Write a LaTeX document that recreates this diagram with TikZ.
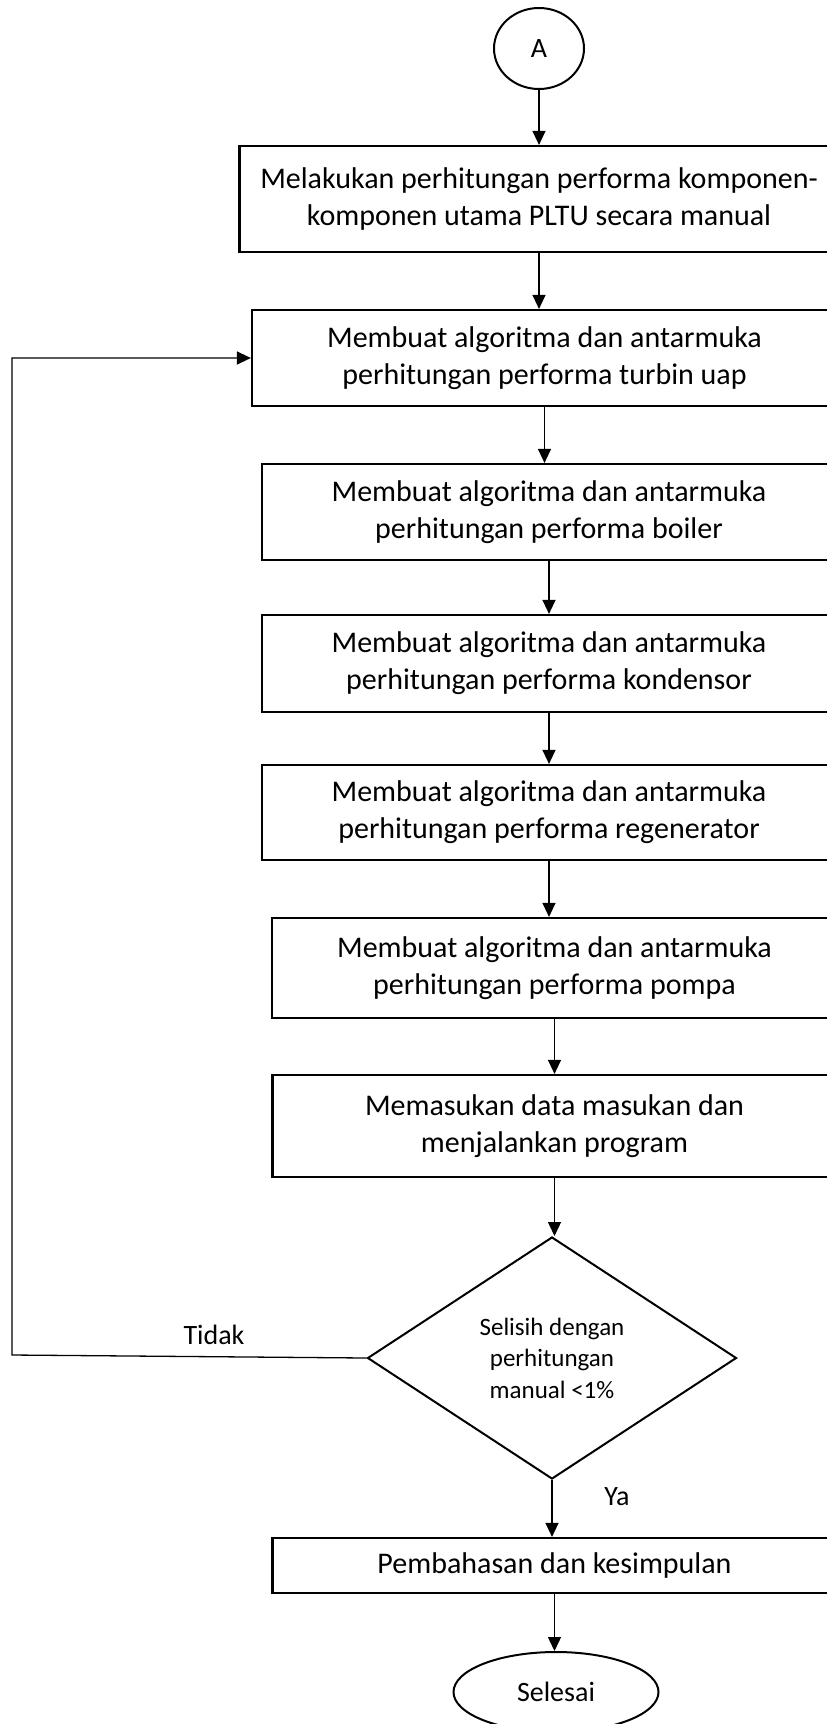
\documentclass[tikz,border=0pt]{standalone}
\usepackage{fontspec}
\setmainfont{Carlito}
\usepackage{tikz}
\usetikzlibrary{shapes,shapes.geometric,arrows,arrows.meta,positioning,calc}

\begin{document}
\begin{tikzpicture}[x=1pt,y=-1pt,
    box/.style={draw,rectangle,line width=2.2pt,align=center,inner sep=0pt,font=\fontsize{30}{37}\selectfont},
    line/.style={line width=1.3pt,-{Triangle[width=13pt,length=14pt]}},
    lbl/.style={font=\fontsize{28}{34}\selectfont}]
    \useasboundingbox (0,0) rectangle (827,1724);
    \node[draw,ellipse,line width=2pt,minimum width=90pt,minimum height=81pt,inner sep=0pt,lbl] (A) at (539,48.5) {A};
    \node[box,minimum width=599pt,minimum height=106pt] (b1) at (539,199) {Melakukan perhitungan performa komponen-\\komponen utama PLTU secara manual};
    \node[box,minimum width=585pt,minimum height=96pt] (b2) at (544.5,358) {Membuat algoritma dan antarmuka\\perhitungan performa turbin uap};
    \node[box,minimum width=574pt,minimum height=96pt] (b3) at (549,512) {Membuat algoritma dan antarmuka\\perhitungan performa boiler};
    \node[box,minimum width=574pt,minimum height=97pt] (b4) at (549,663.5) {Membuat algoritma dan antarmuka\\perhitungan performa kondensor};
    \node[box,minimum width=574pt,minimum height=95pt] (b5) at (549,812.5) {Membuat algoritma dan antarmuka\\perhitungan performa regenerator};
    \node[box,minimum width=565pt,minimum height=100pt] (b6) at (554.5,968) {Membuat algoritma dan antarmuka\\perhitungan performa pompa};
    \node[box,minimum width=564pt,minimum height=102pt] (b7) at (554.5,1126) {Memasukan data masukan dan\\menjalankan program};
    \node[draw,diamond,line width=2pt,minimum width=369pt,minimum height=242pt,inner sep=0pt,align=center,font=\fontsize{25}{31.5}\selectfont] (d) at (552,1358) {Selisih dengan\\perhitungan\\manual <1\%};
    \node[box,minimum width=564pt,minimum height=55pt] (b8) at (554.5,1565.5) {Pembahasan dan kesimpulan};
    \node[draw,ellipse,line width=2pt,minimum width=205pt,minimum height=80pt,lbl] (end) at (556,1692) {Selesai};
    \node[lbl] (tidak) at (214,1335) {Tidak};
    \node[lbl] (ya) at (617,1497) {Ya};
    \coordinate (loop) at (12,1355);
    \draw[line] (A) -- (b1);
    \draw[line] (b1.south) -- (b1.south |- b2.north);
    \draw[line] (b2.south) -- (b2.south |- b3.north);
    \draw[line] (b3.south) -- (b3.south |- b4.north);
    \draw[line] (b4.south) -- (b4.south |- b5.north);
    \draw[line] (b5.south) -- (b5.south |- b6.north);
    \draw[line] (b6.south) -- (b6.south |- b7.north);
    \draw[line] (b7.south) -- (b7.south |- d.north);
    \draw[line] (d.south) -- (d.south |- b8.north);
    \draw[line] (b8.south) -- (b8.south |- end.north);
    \draw[line] (d.west) -- (loop) |- (b2.west);
\end{tikzpicture}
\end{document}
